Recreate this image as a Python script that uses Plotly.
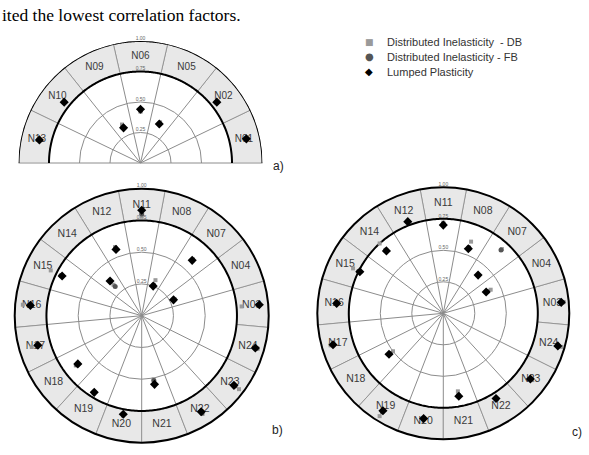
import numpy as np
import plotly.graph_objects as go

# ---------------- data ----------------
# panel a) semicircle, nodes ordered counter-clockwise from the right
a_nodes = ["N01", "N02", "N05", "N06", "N09", "N10", "N13"]
a_db = [0.90, 0.81, 0.37, 0.42, 0.35, 0.80, 0.86]
a_fb = [0.89, 0.80, 0.36, 0.43, 0.33, 0.80, 0.85]
a_lp = [0.89, 0.80, 0.355, 0.44, 0.32, 0.80, 0.85]

# panels b) and c) full circles, counter-clockwise from N03
bc_nodes = ["N03", "N04", "N07", "N08", "N11", "N12", "N14", "N15", "N16",
            "N17", "N18", "N19", "N20", "N21", "N22", "N23", "N24"]
b_db = [0.79, 0.29, 0.60, 0.30, 0.78, 0.58, 0.33, 0.80, 0.94,
        0.90, 0.65, 0.72, 0.80, 0.51, 0.91, 0.96, 0.95]
b_fb = [0.92, 0.28, 0.59, 0.26, 0.80, 0.57, 0.31, 0.71, 0.89,
        0.86, 0.64, 0.71, 0.79, 0.52, 0.90, 0.92, 0.94]
b_lp = [0.93, 0.28, 0.59, 0.25, 0.83, 0.56, 0.37, 0.70, 0.88,
        0.85, 0.63, 0.71, 0.79, 0.55, 0.89, 0.91, 0.93]

c_db = [0.96, 0.42, 0.69, 0.61, 0.72, 0.78, 0.75, 0.80, 0.86,
        0.93, 0.50, 0.96, 0.86, 0.63, 0.80, 0.88, 0.975]
c_fb = [0.95, 0.39, 0.68, 0.56, 0.71, 0.78, 0.68, 0.75, 0.85,
        0.91, 0.53, 0.92, 0.85, 0.66, 0.80, 0.87, 0.95]
c_lp = [0.94, 0.38, 0.41, 0.55, 0.70, 0.78, 0.67, 0.74, 0.85,
        0.91, 0.54, 0.91, 0.85, 0.67, 0.795, 0.866, 0.945]

radial_ticks = [0.25, 0.50, 0.75, 1.00]
radial_tick_text = ["0.25", "0.50", "0.75", "1.00"]
series_names = ["Distributed Inelasticity  - DB", "Distributed Inelasticity - FB", "Lumped Plasticity"]

# ---------------- geometry ----------------
W, H = 589, 455
a_w = 180.0 / len(a_nodes)
a_theta = [a_w * (i + 0.5) for i in range(len(a_nodes))]
a_bounds = [a_w * i for i in range(len(a_nodes) + 1)]

bc_w = 360.0 / len(bc_nodes)
i11 = bc_nodes.index("N11")
bc_theta = [90 + (i - i11) * bc_w for i in range(len(bc_nodes))]
bc_bounds = [t - bc_w / 2 for t in bc_theta]

RING = "#e8e8e8"
GRID = "#8c8c8c"
DB_C, FB_C, LP_C = "#9a9a9a", "#555555", "#000000"

fig = go.Figure()


def add_panel(sub, nodes, theta, width, db, fb, lp, full):
    n = len(nodes)
    fig.add_trace(go.Barpolar(
        subplot=sub, theta=theta, r=[0.25] * n, base=[0.75] * n, width=[width] * n,
        marker=dict(color=RING, line=dict(color=GRID, width=0.8)),
        showlegend=False, hoverinfo="skip"))
    th = np.linspace(0, 360 if full else 180, 361)
    fig.add_trace(go.Scatterpolar(
        subplot=sub, theta=th, r=[0.75] * len(th), mode="lines",
        line=dict(color="black", width=2), showlegend=False, hoverinfo="skip"))
    if not full:
        fig.add_trace(go.Scatterpolar(
            subplot=sub, theta=th, r=[1.0] * len(th), mode="lines", cliponaxis=False,
            line=dict(color="black", width=2), showlegend=False, hoverinfo="skip"))
    fig.add_trace(go.Scatterpolar(
        subplot=sub, theta=theta, r=[0.87] * n, mode="text", text=nodes,
        textfont=dict(family="Liberation Sans", size=10.5 if full else 10, color="#3a3a3a"),
        showlegend=False, hoverinfo="skip"))
    fig.add_trace(go.Scatterpolar(
        subplot=sub, theta=[90] * 4, r=radial_ticks, mode="text", text=radial_tick_text,
        textposition="top center", cliponaxis=False,
        textfont=dict(family="Liberation Sans", size=5, color="#666666"),
        showlegend=False, hoverinfo="skip"))
    fig.add_trace(go.Scatterpolar(
        subplot=sub, theta=theta, r=db, mode="markers", name=series_names[0], cliponaxis=False,
        marker=dict(symbol="square", size=4, color=DB_C), showlegend=False))
    fig.add_trace(go.Scatterpolar(
        subplot=sub, theta=theta, r=fb, mode="markers", name=series_names[1], cliponaxis=False,
        marker=dict(symbol="circle", size=5, color=FB_C), showlegend=False))
    fig.add_trace(go.Scatterpolar(
        subplot=sub, theta=theta, r=lp, mode="markers", name=series_names[2], cliponaxis=False,
        marker=dict(symbol="diamond", size=7, color=LP_C), showlegend=False))


add_panel("polar", a_nodes, a_theta, a_w, a_db, a_fb, a_lp, False)
add_panel("polar2", bc_nodes, bc_theta, bc_w, b_db, b_fb, b_lp, True)
add_panel("polar3", bc_nodes, bc_theta, bc_w, c_db, c_fb, c_lp, True)


def polar_cfg(cx, cy, r, bounds, semi):
    x0, x1 = (cx - r) / W, (cx + r) / W
    if semi:
        y0, y1 = (H - cy) / H, (H - cy + r) / H
    else:
        y0, y1 = (H - cy - r) / H, (H - cy + r) / H
    return dict(
        domain=dict(x=[x0, x1], y=[y0, y1]),
        sector=[0, 180] if semi else [0, 360],
        bgcolor="white",
        radialaxis=dict(range=[0, 1], tickvals=[0.25, 0.5], showticklabels=False,
                        showline=False, ticks="", gridcolor=GRID, gridwidth=0.8),
        angularaxis=dict(tickmode="array", tickvals=bounds, showticklabels=False, ticks="",
                         gridcolor=GRID, gridwidth=0.8, showline=not semi,
                         linecolor="black", linewidth=2,
                         direction="counterclockwise", rotation=0),
    )


def py(y):
    return 1 - y / H


annotations = [
    dict(x=0, y=py(15), xref="paper", yref="paper", xanchor="left", yanchor="middle",
         text="ited the lowest correlation factors.", showarrow=False,
         font=dict(family="Liberation Serif", size=17.5, color="black")),
    dict(x=278 / W, y=py(166), xref="paper", yref="paper", xanchor="center", yanchor="middle",
         text="a)", showarrow=False, font=dict(family="Liberation Sans", size=12, color="#222")),
    dict(x=277 / W, y=py(430), xref="paper", yref="paper", xanchor="center", yanchor="middle",
         text="b)", showarrow=False, font=dict(family="Liberation Sans", size=12, color="#222")),
    dict(x=577 / W, y=py(432), xref="paper", yref="paper", xanchor="center", yanchor="middle",
         text="c)", showarrow=False, font=dict(family="Liberation Sans", size=12, color="#222")),
]
leg_sym = [("■", DB_C, 9), ("●", FB_C, 10), ("◆", LP_C, 10)]
leg_y = [42, 56.5, 71.5]
for (sym, col, sz), name, yy in zip(leg_sym, series_names, leg_y):
    annotations.append(dict(x=369 / W, y=py(yy), xref="paper", yref="paper",
                            xanchor="center", yanchor="middle", text=sym, showarrow=False,
                            font=dict(family="DejaVu Sans", size=sz, color=col)))
    annotations.append(dict(x=385 / W, y=py(yy), xref="paper", yref="paper",
                            xanchor="left", yanchor="middle", text=name, showarrow=False,
                            font=dict(family="Liberation Sans", size=11, color="#333")))

fig.update_layout(
    width=W, height=H, margin=dict(l=0, r=0, t=0, b=0),
    paper_bgcolor="white", plot_bgcolor="white",
    showlegend=False, hovermode=False,
    polar=polar_cfg(140.5, 163, 122, a_bounds, True),
    polar2=polar_cfg(141.7, 315.7, 127, bc_bounds, False),
    polar3=polar_cfg(443.3, 313.3, 126, bc_bounds, False),
    annotations=annotations,
)

fig.write_html("out.html")
